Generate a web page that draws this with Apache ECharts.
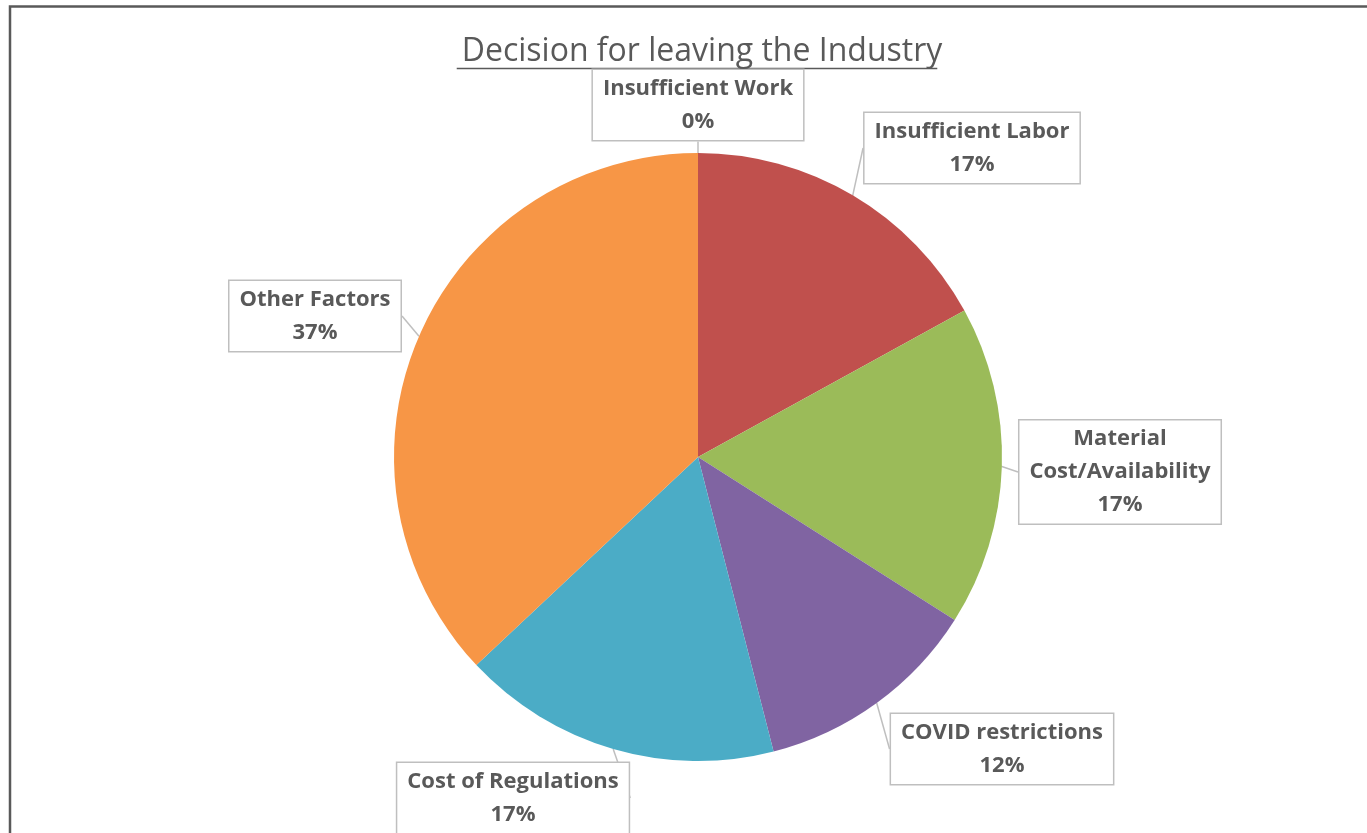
<!DOCTYPE html>
<html>
<head>
<meta charset="utf-8">
<title>Decision for leaving the Industry</title>
<script src="https://cdn.jsdelivr.net/npm/echarts@6/dist/echarts.min.js"></script>
<style>
  html, body { margin: 0; padding: 0; background: #ffffff; }
  #chart { width: 1367px; height: 833px; }
</style>
</head>
<body>
<div id="chart"></div>
<script>
// Reasons given for leaving the industry (share of respondents, %)
const categories = [
  'Insufficient Work',
  'Insufficient Labor',
  'Material\nCost/Availability',
  'COVID restrictions',
  'Cost of Regulations',
  'Other Factors'
];
const shares = [0, 17, 17, 12, 17, 37];
const sliceColors = ['#4F81BD', '#C0504D', '#9BBB59', '#8064A2', '#4BACC6', '#F79646'];

// Callout box centres, as offsets from the pie centre
const calloutOffsets = [
  [0, -352], [274, -309], [422, 15], [304, 292], [-185, 341], [-383, -141]
];

const titleText = 'Decision for leaving the Industry';
const textGrey = '#595959';
const pieCenter = [698, 457];
const pieRadius = 304;
const fontFamily = '"Open Sans", "Liberation Sans", sans-serif';
const titleFontSize = 32;
const titleCenterX = 697;

const chart = echarts.init(document.getElementById('chart'), null, { renderer: 'canvas' });

function draw() {
  // width of the title, for its underline
  const ctx = document.createElement('canvas').getContext('2d');
  ctx.font = titleFontSize + 'px ' + fontFamily;
  const titleWidth = ctx.measureText(titleText).width;

  chart.setOption({
    backgroundColor: '#ffffff',
    animation: false,
    title: {
      text: titleText,
      left: titleCenterX,
      textAlign: 'center',
      top: 31,
      textStyle: { fontFamily: fontFamily, fontSize: titleFontSize, fontWeight: 'normal', color: textGrey }
    },
    graphic: [
      {
        type: 'rect',
        shape: { x: 10, y: 6.5, width: 1500, height: 1000 },
        style: { fill: 'none', stroke: textGrey, lineWidth: 2.5 },
        silent: true
      },
      {
        type: 'line',
        shape: { x1: titleCenterX - titleWidth / 2, y1: 68.5, x2: titleCenterX + titleWidth / 2, y2: 68.5 },
        style: { stroke: textGrey, lineWidth: 1.5 },
        silent: true
      }
    ],
    series: [{
      type: 'pie',
      center: pieCenter,
      radius: pieRadius,
      startAngle: 90,
      clockwise: true,
      minAngle: 0,
      avoidLabelOverlap: false,
      itemStyle: { borderWidth: 0 },
      emphasis: { disabled: true },
      data: categories.map((name, i) => ({
        name: name,
        value: shares[i],
        itemStyle: { color: sliceColors[i] }
      })),
      label: {
        show: true,
        position: 'outside',
        formatter: (p) => p.name + '\n' + p.value + '%',
        fontFamily: fontFamily,
        fontSize: 22,
        fontWeight: 'bold',
        lineHeight: 33,
        color: textGrey,
        align: 'center',
        backgroundColor: '#ffffff',
        borderColor: '#BFBFBF',
        borderWidth: 1.5,
        padding: [2, 10, 2, 10]
      },
      labelLine: {
        show: true,
        length: 15,
        length2: 0,
        lineStyle: { color: '#BFBFBF', width: 1.5 }
      },
      labelLayout: (params) => {
        const off = calloutOffsets[params.dataIndex];
        return {
          x: pieCenter[0] + off[0],
          y: pieCenter[1] + off[1],
          align: 'center',
          verticalAlign: 'middle'
        };
      }
    }]
  }, true);
}

draw();
if (document.fonts && document.fonts.ready) {
  document.fonts.ready.then(draw);
}
</script>
</body>
</html>
